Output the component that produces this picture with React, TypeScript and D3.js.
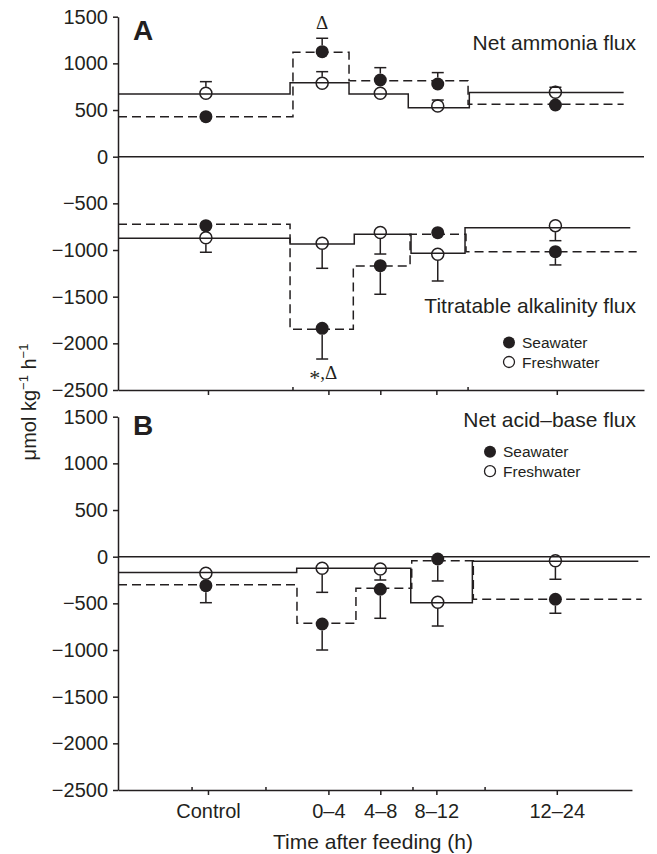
import React, { useRef, useEffect } from "react";
import * as d3 from "d3";

// x axis is hours after feeding; Control is placed before feeding
const categories = ["Control", "0–4", "4–8", "8–12", "12–24"];
const tickPos = [-6.5, 2.2, 5.95, 10.0, 18.7];
const pointPos = [-6.65, 1.75, 5.95, 10.1, 18.6];
const minorTicksA = [-0.36, 12.29];
const minorTicksB = [-7.65, -2.31, 8.31, 13.52];
const yTicks = [1500, 1000, 500, 0, -500, -1000, -1500, -2000, -2500];

// Panel A - net ammonia flux
const ammoniaSW = [429, 1125, 822, 779, 554];
const ammoniaSWErr = [0, 144, 132, 122, 0];
const ammoniaFW = [679, 786, 679, 543, 690];
const ammoniaFWErr = [125, 125, 0, 64, 54];
const ammoniaSWEdges = [-13, -0.36, 3.69, 12.29, 23.53];
const ammoniaSWSteps = [429, 1119, 815, 561];
const ammoniaFWEdges = [-13, -0.57, 3.69, 7.97, 12.38, 23.53];
const ammoniaFWSteps = [672, 793, 672, 525, 688];

// Panel A - titratable alkalinity flux
const taSW = [-739, -1839, -1168, -814, -1018];
const taSWErr = [0, 329, 306, 0, 142];
const taFW = [-868, -928, -812, -1046, -739];
const taFWErr = [156, 268, 231, 286, 161];
const taSWEdges = [-13, -0.57, 4.0, 8.1, 12.14, 24.47];
const taSWSteps = [-724, -1849, -1171, -831, -1018];
const taFWEdges = [-13, -0.57, 4.07, 8.17, 12.07, 24.01];
const taFWSteps = [-874, -935, -830, -1035, -761];

// Panel B - net acid-base flux
const acidSW = [-311, -721, -349, -25, -456];
const acidSWErr = [182, 279, 311, 235, 150];
const acidFW = [-178, -124, -132, -489, -43];
const acidFWErr = [0, 258, 118, 254, 199];
const acidSWEdges = [-13, -0.07, 4.19, 8.22, 12.67, 24.83];
const acidSWSteps = [-300, -714, -339, -43, -456];
const acidFWEdges = [-13, -0.09, 8.15, 12.6, 24.59];
const acidFWSteps = [-169, -124, -493, -48];

const ink = "#231f20";
const sans = "'Liberation Sans', Arial, Helvetica, sans-serif";

const App = () => {
  const svgRef = useRef<SVGSVGElement>(null);
  const width = 657;
  const height = 854;

  useEffect(() => {
    document.body.style.margin = "0";
    const svg = d3.select(svgRef.current);
    svg.selectAll("*").remove();

    const x = d3.scaleLinear().domain([-13, 25]).range([118, 644]);
    const yA = d3.scaleLinear().domain([-2500, 1500]).range([390, 16.7]);
    const yB = d3.scaleLinear().domain([-2500, 1500]).range([790, 416.7]);
    const fmt = (d) => (d < 0 ? "\u2212" + Math.abs(d) : String(d));
    const r = 6.5;

    const drawAxes = (y, xEnd, zeroEnd, minor, labels) => {
      const gy = svg
        .append("g")
        .attr("transform", `translate(${x(-13)},0)`)
        .call(
          d3.axisLeft(y).tickValues(yTicks).tickFormat(fmt).tickSize(5).tickPadding(5).tickSizeOuter(0)
        );
      const xs = x.copy().domain([-13, xEnd]).range([x(-13), x(xEnd)]);
      const gx = svg
        .append("g")
        .attr("transform", `translate(0,${y(-2500)})`)
        .call(
          d3
            .axisBottom(xs)
            .tickValues(tickPos)
            .tickFormat((d, i) => (labels ? categories[i] : ""))
            .tickSize(5)
            .tickPadding(9)
            .tickSizeOuter(0)
        );
      gx.selectAll(".minor")
        .data(minor)
        .join("line")
        .attr("x1", (d) => x(d))
        .attr("x2", (d) => x(d))
        .attr("y1", 0)
        .attr("y2", -3)
        .attr("stroke", ink)
        .attr("stroke-width", 1);
      [gy, gx].forEach((g) => {
        g.attr("font-family", sans).attr("font-size", 20);
        g.selectAll("path, line").attr("stroke", ink).attr("stroke-width", 1.5);
        g.selectAll("text").attr("fill", ink);
      });
      svg
        .append("line")
        .attr("x1", x(-13))
        .attr("x2", x(zeroEnd))
        .attr("y1", y(0))
        .attr("y2", y(0))
        .attr("stroke", ink)
        .attr("stroke-width", 1.5);
    };

    const drawSteps = (y, edges, steps, dashed) => {
      const pts = [];
      steps.forEach((v, i) => {
        pts.push([edges[i], v]);
        pts.push([edges[i + 1], v]);
      });
      const line = d3
        .line()
        .x((d) => x(d[0]))
        .y((d) => y(d[1]));
      svg
        .append("path")
        .attr("d", line(pts))
        .attr("fill", "none")
        .attr("stroke", ink)
        .attr("stroke-width", 1.5)
        .attr("stroke-dasharray", dashed ? "9,5" : null);
    };

    const drawPoints = (y, means, errs, filled) => {
      const g = svg.append("g");
      means.forEach((m, i) => {
        const cx = x(pointPos[i]);
        const dir = m >= 0 ? 1 : -1;
        if (errs[i] > 0) {
          const y0 = y(m) - dir * r;
          const y1 = y(m + dir * errs[i]);
          g.append("line")
            .attr("x1", cx).attr("x2", cx)
            .attr("y1", y0).attr("y2", y1)
            .attr("stroke", ink).attr("stroke-width", 1.5);
          g.append("line")
            .attr("x1", cx - 6).attr("x2", cx + 6)
            .attr("y1", y1).attr("y2", y1)
            .attr("stroke", ink).attr("stroke-width", 1.5);
        }
      });
      g.selectAll("circle")
        .data(means)
        .join("circle")
        .attr("cx", (d, i) => x(pointPos[i]))
        .attr("cy", (d) => y(d))
        .attr("r", filled ? r : r - 0.5)
        .attr("fill", filled ? ink : "none")
        .attr("stroke", ink)
        .attr("stroke-width", filled ? 0 : 1.5);
    };

    // panel A
    drawAxes(yA, 25, 25, minorTicksA, false);
    drawSteps(yA, ammoniaFWEdges, ammoniaFWSteps, false);
    drawSteps(yA, ammoniaSWEdges, ammoniaSWSteps, true);
    drawSteps(yA, taFWEdges, taFWSteps, false);
    drawSteps(yA, taSWEdges, taSWSteps, true);
    drawPoints(yA, ammoniaFW, ammoniaFWErr, false);
    drawPoints(yA, ammoniaSW, ammoniaSWErr, true);
    drawPoints(yA, taFW, taFWErr, false);
    drawPoints(yA, taSW, taSWErr, true);

    // panel B
    drawAxes(yB, 24.13, 25.43, minorTicksB, true);
    drawSteps(yB, acidFWEdges, acidFWSteps, false);
    drawSteps(yB, acidSWEdges, acidSWSteps, true);
    drawPoints(yB, acidFW, acidFWErr, false);
    drawPoints(yB, acidSW, acidSWErr, true);

    const text = (tx, ty, str, opts = {}) =>
      svg
        .append("text")
        .attr("x", tx)
        .attr("y", ty)
        .attr("font-family", opts.family || sans)
        .attr("font-size", opts.size || 21)
        .attr("font-weight", opts.weight || "normal")
        .attr("text-anchor", opts.anchor || "start")
        .attr("fill", ink)
        .text(str);

    text(133, 40, "A", { size: 28, weight: "bold" });
    text(133, 435, "B", { size: 28, weight: "bold" });
    text(636, 50, "Net ammonia flux", { anchor: "end" });
    text(636, 313, "Titratable alkalinity flux", { anchor: "end" });
    text(636, 426.5, "Net acid–base flux", { anchor: "end" });

    // significance marks
    const serif = "'Liberation Serif', 'Times New Roman', serif";
    text(x(pointPos[1]), yA(ammoniaSW[1] + ammoniaSWErr[1]) - 9, "Δ", {
      size: 19, family: serif, anchor: "middle",
    });
    const star = text(x(pointPos[1]) + 1, yA(taSW[1] - taSWErr[1]) + 20, "", {
      size: 19, family: serif, anchor: "middle",
    });
    star.append("tspan").attr("font-size", 22).attr("dy", 6).text("*");
    star.append("tspan").attr("dy", -6).text(",Δ");

    // legends
    const legend = (lx, ly) => {
      [
        ["Seawater", true],
        ["Freshwater", false],
      ].forEach(([label, filled], i) => {
        const cy = ly + i * 19.5;
        svg
          .append("circle")
          .attr("cx", lx)
          .attr("cy", cy)
          .attr("r", filled ? 6 : 5.5)
          .attr("fill", filled ? ink : "none")
          .attr("stroke", ink)
          .attr("stroke-width", filled ? 0 : 1.3);
        text(lx + 13, cy + 5.5, label, { size: 15.5 });
      });
    };
    legend(509, 342.5);
    legend(490, 451.7);

    // axis titles
    text(373, 849, "Time after feeding (h)", { anchor: "middle" });
    const yt = svg
      .append("text")
      .attr("transform", "translate(36,402) rotate(-90)")
      .attr("text-anchor", "middle")
      .attr("font-family", sans)
      .attr("font-size", 20)
      .attr("fill", ink);
    yt.append("tspan").text("μmol kg");
    yt.append("tspan").attr("font-size", 13).attr("dy", -8).text("\u22121");
    yt.append("tspan").attr("dy", 8).text(" h");
    yt.append("tspan").attr("font-size", 13).attr("dy", -8).text("\u22121");
  }, []);

  return (
    <svg
      ref={svgRef}
      width={width}
      height={height}
      style={{ position: "absolute", left: 0, top: 0, background: "#fff" }}
    ></svg>
  );
};

export default App;
